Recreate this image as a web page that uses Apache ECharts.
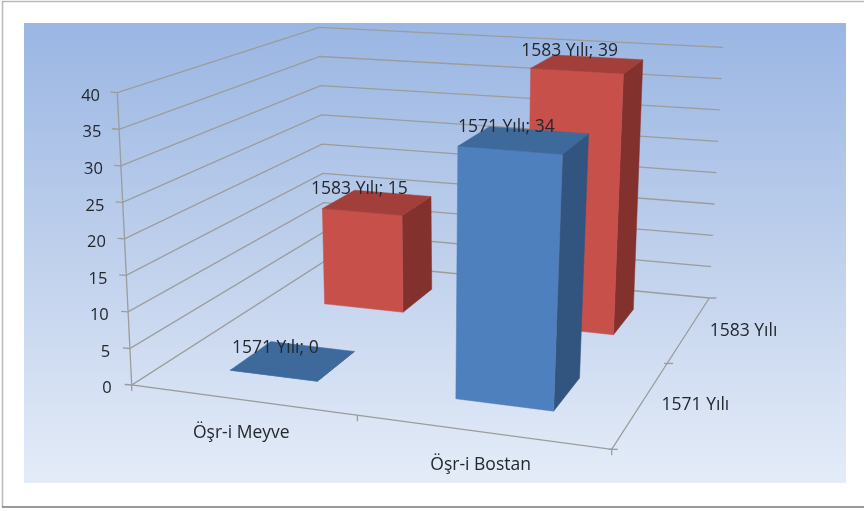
<!DOCTYPE html>
<html><head><meta charset="utf-8">
<style>html,body{margin:0;padding:0;background:#fff}#c{width:864px;height:511px}</style>
<script src="https://cdn.jsdelivr.net/npm/echarts@6/dist/echarts.min.js"></script>
</head><body><div id="c"></div>
<script>
const categories = ['Öşr-i Meyve', 'Öşr-i Bostan'];
const years = ['1571 Yılı', '1583 Yılı'];
const values1571 = [0, 34];
const values1583 = [15, 39];
const valueTicks = [0, 5, 10, 15, 20, 25, 30, 35, 40];

const FONT = '"Open Sans", sans-serif';
const TEXT = '#23272e';
// perspective calibration: corners of the plot box's floor and ceiling planes [fl, fr, br, bl]
function planeMap(q) {
  const [p0, p1, p2, p3] = q;
  const dx1 = p1[0] - p2[0], dx2 = p3[0] - p2[0], sx = p0[0] - p1[0] + p2[0] - p3[0];
  const dy1 = p1[1] - p2[1], dy2 = p3[1] - p2[1], sy = p0[1] - p1[1] + p2[1] - p3[1];
  const den = dx1 * dy2 - dx2 * dy1;
  const g = (sx * dy2 - dx2 * sy) / den, h = (dx1 * sy - sx * dy1) / den;
  const a = p1[0] - p0[0] + g * p1[0], b = p3[0] - p0[0] + h * p3[0];
  const d = p1[1] - p0[1] + g * p1[1], e = p3[1] - p0[1] + h * p3[1];
  return (u, v) => {
    const w = 1 + g * u + h * v;
    return [(a * u + b * v + p0[0]) / w, (d * u + e * v + p0[1]) / w];
  };
}
const floorMap = planeMap([[131.7, 385], [611.7, 449.3], [709.3, 298], [325, 261]]);
const ceilMap = planeMap([[117.3, 92.7], [630, 131], [723.3, 47.3], [319.3, 27.3]]);
function project(u, v, z) {
  const A = floorMap(u, v), B = ceilMap(u, v);
  return [A[0] + (B[0] - A[0]) * z, A[1] + (B[1] - A[1]) * z];
}
// grid spans a unit box: the library's axes turn category/value into 0..1 fractions
const GRID = { left: 0, top: 0, width: 864, height: 511 };
const uOf = (api, idx) => (api.coord([idx, 0])[0] - GRID.left) / GRID.width;
const zOf = (api, val) => 1 - (api.coord([0, val])[1] - GRID.top) / GRID.height;
const LINE = { stroke: '#9b9c9c', lineWidth: 1.3, fill: null };
const HALF = 0.1;

function line(points) {
  return { type: 'polyline', shape: { points }, style: LINE, silent: true };
}
function label(text, x, y, align, size) {
  return { type: 'text', silent: true,
    style: { text, x, y, fill: TEXT, font: (size || 17.5) + 'px ' + FONT, align: align || 'center', verticalAlign: 'middle' } };
}
function poly(points, fill) {
  return { type: 'polygon', shape: { points }, style: { fill, stroke: fill, lineWidth: 0.5 }, silent: true };
}
function barSeries(name, values, depthIndex, colors, z) {
  return {
    type: 'custom', name, z, coordinateSystem: 'cartesian2d', clip: false,
    data: values.map((val, i) => [i, val]),
    encode: { x: 0, y: 1 },
    renderItem(params, api) {
      const uc = uOf(api, api.value(0)), val = api.value(1);
      const vc = (depthIndex + 0.5) / years.length, top = zOf(api, val);
      const u0 = uc - HALF, u1 = uc + HALF, v0 = vc - HALF, v1 = vc + HALF;
      const children = [
        poly([project(u1, v0, 0), project(u1, v1, 0), project(u1, v1, top), project(u1, v0, top)], colors[2]),
        poly([project(u0, v0, 0), project(u1, v0, 0), project(u1, v0, top), project(u0, v0, top)], colors[0]),
        poly([project(u0, v0, top), project(u1, v0, top), project(u1, v1, top), project(u0, v1, top)], colors[1])
      ];
      const anchor = project(uc, vc, top);
      children.push(label(name + '; ' + val, anchor[0] - 18, anchor[1] - 13));
      return { type: 'group', children };
    }
  };
}
const wallSeries = {
  type: 'custom', name: 'Değer', z: 1, clip: false,
  data: valueTicks.map(t => [0, t]), encode: { x: 0, y: 1 },
  renderItem(params, api) {
    const t = api.value(1), z = zOf(api, t);
    const front = project(0, 0, z), end = project(1, 1, z);
    const pts = [[front[0] - 7, front[1] - 0.5], front, project(0, 1, z), end];
    if (t === 0) pts.push([end[0] + 7, end[1]]);
    return { type: 'group', children: [
      line(pts),
      label(String(t), front[0] - 17.3 - (1 - z) * 2.7, front[1] + 3.5, 'right', 16.5)
    ] };
  }
};
const categorySeries = {
  type: 'custom', name: 'Kategori', z: 1, clip: false,
  data: categories.map((n, i) => [i, 0]), encode: { x: 0, y: 1 },
  renderItem(params, api) {
    const i = api.value(0), uc = uOf(api, i);
    const right = project(uc + 0.25, 0, 0);
    const children = [line([right, [right[0], right[1] + 6]])];
    if (i === 0) { const s = project(0, 0, 0); children.push(line([s, [s[0], s[1] + 6]])); }
    const m = project(uc, 0, 0);
    children.push(label(categories[i], m[0], m[1] + 33));
    return { type: 'group', children };
  }
};
const depthSeries = {
  type: 'custom', name: 'Yıl', z: 1, clip: false,
  data: years.map((n, i) => [i, 0]), encode: { x: 0, y: 1 },
  renderItem(params, api) {
    const i = api.value(0), vc = (i + 0.5) / years.length;
    const s = project(1, i / years.length, 0), m = project(1, vc, 0);
    return { type: 'group', children: [
      line([[s[0] - 3, s[1]], [s[0] + 6, s[1]]]),
      label(years[i], m[0] + 54, m[1] + 2)
    ] };
  }
};
const frameSeries = {
  type: 'custom', name: 'Eksen', z: 1, clip: false,
  data: [[0, 40]], encode: { x: 0, y: 1 },
  renderItem(params, api) {
    const top = zOf(api, api.value(1));
    return { type: 'group', children: [
      line([project(0, 0, top), project(0, 0, 0), project(1, 0, 0), project(1, 1, 0)])
    ] };
  }
};
const chart = echarts.init(document.getElementById('c'), null, { renderer: 'canvas' });
chart.setOption({
  animation: false,
  backgroundColor: '#ffffff',
  tooltip: { show: false },
  graphic: [
    { type: 'polyline', z: 0, silent: true, shape: { points: [[864, 1.5], [2.5, 1.5], [2.5, 507]] },
      style: { fill: null, stroke: '#b9b9b9', lineWidth: 1.5 } },
    { type: 'line', z: 0, silent: true, shape: { x1: 2, y1: 507, x2: 864, y2: 507 }, style: { stroke: '#777', lineWidth: 1.5 } },
    { type: 'rect', z: 0, silent: true, shape: { x: 24, y: 23, width: 822, height: 460 },
      style: { fill: new echarts.graphic.LinearGradient(0, 0, 0, 1, [
        { offset: 0, color: '#9ab6e3' }, { offset: 0.5, color: '#bfd0ec' }, { offset: 1, color: '#e4ecf8' }]) } }
  ],
  grid: { left: GRID.left, top: GRID.top, width: GRID.width, height: GRID.height, containLabel: false },
  xAxis: { type: 'category', data: categories, show: false },
  yAxis: { type: 'value', min: 0, max: 40, interval: 5, show: false },
  series: [
    wallSeries, frameSeries, categorySeries, depthSeries,
    barSeries(years[1], values1583, 1, ['#c7504b', '#a33f3a', '#82312d'], 3),
    barSeries(years[0], values1571, 0, ['#4d80bd', '#3d6a9b', '#31557f'], 4)
  ]
});
</script></body></html>
